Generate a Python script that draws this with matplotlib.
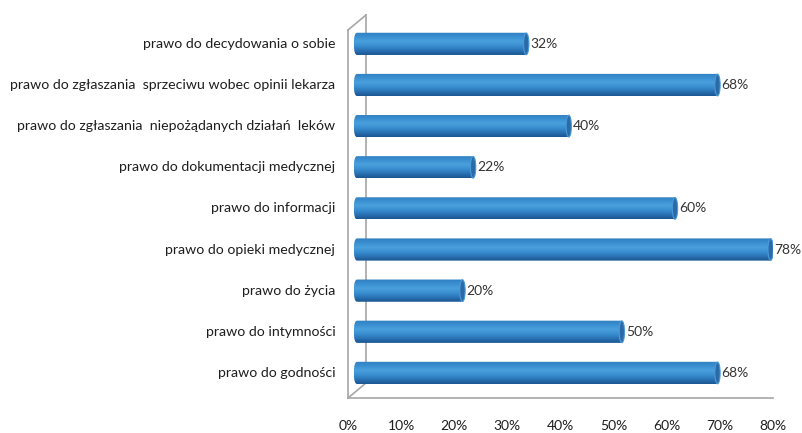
import numpy as np
import matplotlib
matplotlib.use("Agg")
import matplotlib.pyplot as plt
from matplotlib.patches import FancyBboxPatch, Ellipse
from matplotlib.colors import LinearSegmentedColormap
from matplotlib.lines import Line2D

# data (bottom to top)
categories = [
    "prawo do godności",
    "prawo do intymności",
    "prawo do życia",
    "prawo do opieki medycznej",
    "prawo do informacji",
    "prawo do dokumentacji medycznej",
    "prawo do zgłaszania  niepożądanych działań  leków",
    "prawo do zgłaszania  sprzeciwu wobec opinii lekarza",
    "prawo do decydowania o sobie",
]
values = [68, 50, 20, 78, 60, 22, 40, 68, 32]
tick_values = [0, 10, 20, 30, 40, 50, 60, 70, 80]
tick_labels = ["0%", "10%", "20%", "30%", "40%", "50%", "60%", "70%", "80%"]

plt.rcParams['font.family'] = ['Lato', 'DejaVu Sans']

W, H = 802, 433
fig = plt.figure(figsize=(W / 100, H / 100), dpi=100)
ax = fig.add_axes([348 / W, (H - 398) / H, 425 / W, (398 - 20) / H])
ax.set_xlim(0, 80)
ax.set_ylim(-0.61, 8.58)
ax.axis("off")

# cylinder shading
cyl = LinearSegmentedColormap.from_list(
    "cyl", ["#1b5690", "#2a73b6", "#3a8fd0", "#4aa0dc", "#3a8fd0", "#2f7fc0"])
grad = np.linspace(0, 1, 64).reshape(-1, 1)

start = 1.1   # bars sit behind the front of the 3d floor
extra = 0.9   # perspective stretch toward the back
bh = 0.54
for i, v in enumerate(values):
    x0, x1 = start, start + v + extra
    box = FancyBboxPatch((x0, i - bh / 2), x1 - x0, bh,
                         boxstyle="round,pad=0,rounding_size=0.6",
                         mutation_aspect=0.45, facecolor="none",
                         edgecolor="none")
    ax.add_patch(box)
    im = ax.imshow(grad, extent=[x0, x1, i - bh / 2, i + bh / 2],
                   cmap=cyl, aspect="auto", origin="lower",
                   interpolation="bilinear", zorder=2)
    im.set_clip_path(box)
    cap = Ellipse((x1 - 0.45, i), 1.0, bh * 0.98, facecolor="#2a6aa8",
                  edgecolor="#4b9ad6", lw=0.8, zorder=3)
    ax.add_patch(cap)
    ax.text(x1 + 0.3, i, f"{v}%", ha="left", va="center",
            fontsize=10, color="#333333", zorder=4)

# axis labels
for i, c in enumerate(categories):
    ax.text(-2.4, i, c, ha="right", va="center", fontsize=10.2,
            color="#1e1e1e", clip_on=False)
for t, lab in zip(tick_values, tick_labels):
    ax.text(t, -1.3, lab, ha="center", va="center", fontsize=10,
            color="#1e1e1e", clip_on=False)

# walls of the 3d frame (behind the bars)
gray = "#a6a6a6"
walls = [
    ([348, 348], [30, 398]),
    ([348, 366], [30, 15]),
    ([366, 366], [15, 383]),
    ([348, 366], [398, 383]),
    ([348, 773], [398, 398]),
]
for xs, ys in walls:
    ax.add_line(Line2D([x / W for x in xs], [1 - y / H for y in ys],
                       transform=fig.transFigure, color=gray, lw=1.2,
                       clip_on=False, zorder=1))

fig.savefig("out.png", dpi=100)
